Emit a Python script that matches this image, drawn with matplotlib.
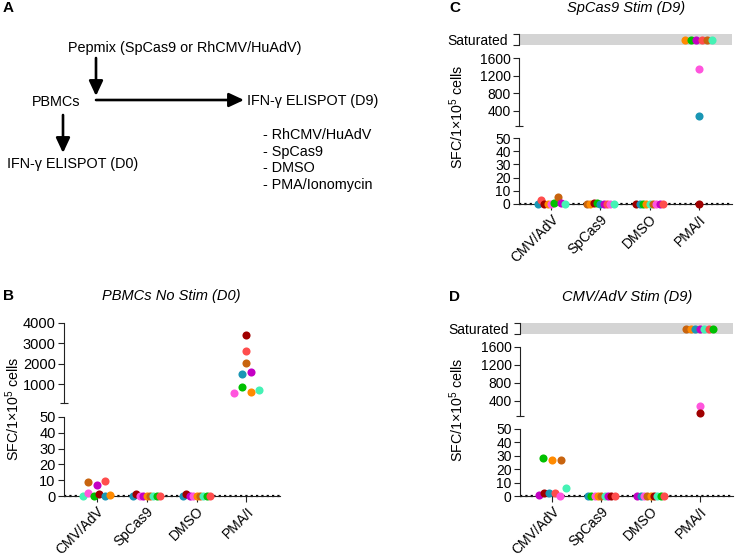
import numpy as np
import matplotlib
matplotlib.use("Agg")
import matplotlib.pyplot as plt

plt.rcParams['font.family'] = ['Liberation Sans', 'DejaVu Sans']
plt.rcParams['mathtext.fontset'] = 'custom'
plt.rcParams['mathtext.rm'] = 'Liberation Sans'
plt.rcParams['mathtext.it'] = 'Liberation Sans:italic'
plt.rcParams['mathtext.bf'] = 'Liberation Sans:bold'

# ---------------- data ----------------
SAT = np.inf  # "Saturated" wells
categories = ['CMV/AdV', 'SpCas9', 'DMSO', 'PMA/I']

# (donor, SFC per 1e5 cells) in left-to-right order inside each group
B_CMV = [('aqua', 0), ('pink', 1.7), ('green', 0), ('darkred', 1), ('teal', 0), ('orange', 0.6),
         ('brown', 9), ('magenta', 6.7), ('red', 9.6)]
B_SPC = [('teal', 0), ('darkred', 1), ('pink', 0), ('magenta', 0), ('orange', 0), ('brown', 0),
         ('aqua', 0), ('green', 0), ('red', 0)]
B_DMSO = [('teal', 0), ('darkred', 1), ('magenta', 0), ('pink', 0), ('orange', 0), ('brown', 0),
          ('aqua', 0), ('green', 0), ('red', 0)]
B_PMA = [('darkred', 3400), ('red', 2620), ('brown', 2020), ('teal', 1510), ('magenta', 1590),
         ('pink', 590), ('green', 850), ('orange', 640), ('aqua', 720)]

C_CMV = [('teal', 0), ('red', 2.7), ('darkred', 0), ('orange', 0), ('pink', 0), ('green', 1),
         ('brown', 5.5), ('magenta', 0.5), ('aqua', 0)]
C_SPC = [('brown', 0), ('orange', 0), ('darkred', 0.5), ('green', 1), ('teal', 0), ('magenta', 0),
         ('red', 0), ('pink', 0), ('aqua', 0)]
C_DMSO = [('darkred', 0), ('teal', 0), ('green', 0), ('orange', 0), ('aqua', 0), ('brown', 0),
          ('pink', 0), ('magenta', 0), ('red', 0)]
C_PMA = [('orange', SAT), ('green', SAT), ('magenta', SAT), ('red', SAT), ('brown', SAT), ('aqua', SAT),
         ('pink', 1340), ('teal', 280), ('darkred', 0)]

D_CMV = [('magenta', 1), ('darkred', 2), ('teal', 2), ('red', 2), ('pink', 0), ('aqua', 6),
         ('green', 28.5), ('orange', 26.5), ('brown', 27)]
D_SPC = [('teal', 0), ('green', 0), ('pink', 0), ('orange', 0), ('brown', 0), ('aqua', 0),
         ('magenta', 0), ('darkred', 0), ('red', 0)]
D_DMSO = [('magenta', 0), ('teal', 0), ('pink', 0), ('brown', 0), ('orange', 0), ('darkred', 0),
          ('aqua', 0), ('green', 0), ('red', 0)]
D_PMA = [('brown', SAT), ('orange', SAT), ('teal', SAT), ('magenta', SAT), ('aqua', SAT), ('red', SAT),
         ('green', SAT), ('pink', 290), ('darkred', 127)]

low_ticks = [0, 10, 20, 30, 40, 50]
B_high_ticks = [1000, 2000, 3000, 4000]
CD_high_ticks = [400, 800, 1200, 1600]

# ---------------- style ----------------
donor_colors = {
    'darkred': '#A00000', 'red': '#FF4D4D', 'brown': '#C8640F', 'teal': '#1A96B4',
    'magenta': '#C400C4', 'green': '#00C000', 'orange': '#FF8A00', 'pink': '#FF55DD',
    'aqua': '#45F2B5',
}
W, H = 736, 559
XLIM = (-0.65, 3.67)
AX_C = '#222222'
DOT_S = 34

fig = plt.figure(figsize=(W / 100, H / 100), dpi=100)

ov = fig.add_axes([0, 0, 1, 1])
ov.set_xlim(0, W)
ov.set_ylim(H, 0)
ov.axis('off')


def px_ax(x0, x1, ytop, ybot):
    return fig.add_axes([x0 / W, 1 - ybot / H, (x1 - x0) / W, (ybot - ytop) / H])


def base_style(ax, ylim, tfs):
    ax.set_xlim(*XLIM)
    ax.set_ylim(*ylim)
    ax.patch.set_visible(False)
    for s in ['top', 'right']:
        ax.spines[s].set_visible(False)
    ax.spines['left'].set_linewidth(0.8)
    ax.spines['left'].set_color(AX_C)
    ax.tick_params(axis='y', which='major', length=4, width=0.8, pad=2,
                   labelsize=tfs, color=AX_C, labelcolor='black')


def swarm(ypix, d=6.5, smax=8.6, wmax=27.0):
    n = len(ypix)
    order = sorted(range(n), key=lambda i: ypix[i])
    clusters, cur = [], [order[0]]
    for a, b in zip(order[:-1], order[1:]):
        if ypix[b] - ypix[a] < d:
            cur.append(b)
        else:
            clusters.append(cur)
            cur = [b]
    clusters.append(cur)
    off = np.zeros(n)
    for c in clusters:
        c = sorted(c)
        m = len(c)
        if m < 2:
            continue
        s = min(smax, wmax / (m - 1))
        for k, i in enumerate(c):
            off[i] = (k - (m - 1) / 2) * s
    return off


def panel(groups, x0, x1, low, high, high_ylim, high_ticks, band=None, tfs=10):
    # low / high / band = (ytop, ybot) in pixels
    ax_lo = px_ax(x0, x1, *low)
    base_style(ax_lo, (0, 50), tfs)
    ax_lo.set_yticks(low_ticks)
    ax_lo.spines['bottom'].set_linewidth(0.8)
    ax_lo.spines['bottom'].set_color(AX_C)
    ax_lo.set_xticks(range(len(categories)))
    ax_lo.set_xticklabels(categories, rotation=45, ha='right', va='top',
                          rotation_mode='anchor', fontsize=10)
    ax_lo.tick_params(axis='x', length=4, width=0.8, pad=2, color=AX_C)
    ax_lo.axhline(0, color='black', lw=1.6, ls=(0, (1, 1.4)), zorder=2, clip_on=False)

    ax_hi = px_ax(x0, x1, *high)
    base_style(ax_hi, high_ylim, tfs)
    ax_hi.spines['bottom'].set_visible(False)
    ax_hi.set_xticks([])
    ax_hi.set_yticks(high_ticks)
    ax_hi.set_yticks([high_ylim[0]], minor=True)
    ax_hi.tick_params(axis='y', which='minor', length=6, width=0.8, direction='inout',
                      color=AX_C, labelleft=False)

    ax_b = None
    if band is not None:
        ax_b = px_ax(x0, x1, *band)
        ax_b.set_xlim(*XLIM)
        ax_b.set_ylim(0, 1)
        ax_b.set_facecolor('#D4D4D4')
        for s in ['top', 'right', 'bottom']:
            ax_b.spines[s].set_visible(False)
        ax_b.spines['left'].set_linewidth(0.8)
        ax_b.spines['left'].set_color(AX_C)
        ax_b.set_xticks([])
        ax_b.set_yticks([0.5])
        ax_b.set_yticklabels(['Saturated'])
        ax_b.set_yticks([0, 1], minor=True)
        ax_b.tick_params(axis='y', which='major', length=0, pad=8, labelsize=tfs)
        ax_b.tick_params(axis='y', which='minor', length=4, width=0.8, color=AX_C)

    ux = (x1 - x0) / (XLIM[1] - XLIM[0])
    lo_h = low[1] - low[0]
    hi_h = high[1] - high[0]
    for gi, grp in enumerate(groups):
        ypix, where = [], []
        for donor, v in grp:
            if np.isinf(v):
                ypix.append((band[0] + band[1]) / 2)
                where.append('band')
            elif v > 50:
                ypix.append(high[1] - (v - high_ylim[0]) / (high_ylim[1] - high_ylim[0]) * hi_h)
                where.append('hi')
            else:
                ypix.append(low[1] - v / 50 * lo_h)
                where.append('lo')
        off = swarm(ypix)
        for (donor, v), o, w in zip(grp, off, where):
            xx = gi + o / ux
            if w == 'band':
                ax, yy = ax_b, 0.5
            elif w == 'hi':
                ax, yy = ax_hi, v
            else:
                ax, yy = ax_lo, v
            ax.scatter([xx], [yy], s=DOT_S, color=donor_colors[donor], lw=0,
                       zorder=3, clip_on=False)
    return ax_lo, ax_hi, ax_b


# ---------------- panel A (schematic) ----------------
fs_a = 10.4
ov.text(3, 8, 'A', fontsize=11, fontweight='bold', ha='left', va='center')
ov.text(185, 48, 'Pepmix (SpCas9 or RhCMV/HuAdV)', fontsize=fs_a, ha='center', va='center')
ov.text(56, 102, 'PBMCs', fontsize=fs_a, ha='center', va='center')
ov.text(247, 101, 'IFN-γ ELISPOT (D9)', fontsize=fs_a, ha='left', va='center')
ov.text(7, 164, 'IFN-γ ELISPOT (D0)', fontsize=fs_a, ha='left', va='center')
for yy, t in zip([135, 152, 168, 185], ['- RhCMV/HuAdV', '- SpCas9', '- DMSO', '- PMA/Ionomycin']):
    ov.text(263, yy, t, fontsize=fs_a, ha='left', va='center')

arrow_kw = dict(arrowstyle='-|>,head_length=0.9,head_width=0.42', lw=1.9, color='black',
                shrinkA=0, shrinkB=0, mutation_scale=10)
ov.annotate('', xy=(96, 96), xytext=(96, 58), arrowprops=arrow_kw)
ov.annotate('', xy=(244, 100), xytext=(96, 100), arrowprops=arrow_kw)
ov.annotate('', xy=(63, 153), xytext=(63, 115), arrowprops=arrow_kw)

# ---------------- panel B ----------------
panel([B_CMV, B_SPC, B_DMSO, B_PMA], 64, 280, low=(417, 496), high=(323, 402.5),
      high_ylim=(110, 4000), high_ticks=B_high_ticks, tfs=10.5)
ov.text(3, 296, 'B', fontsize=11, fontweight='bold', ha='left', va='center')
ov.text(171, 296, 'PBMCs No Stim (D0)', fontsize=10.5, style='italic', ha='center', va='center')
ov.text(13, 409, 'SFC/1×10$^5$ cells', fontsize=10.3, rotation=90, ha='center', va='center')

# ---------------- panel C ----------------
panel([C_CMV, C_SPC, C_DMSO, C_PMA], 519, 732, low=(138, 204), high=(58, 126),
      high_ylim=(60, 1600), high_ticks=CD_high_ticks, band=(34, 45), tfs=10)
ov.text(449, 8, 'C', fontsize=11, fontweight='bold', ha='left', va='center')
ov.text(626, 8, 'SpCas9 Stim (D9)', fontsize=10.5, style='italic', ha='center', va='center')
ov.text(457, 117, 'SFC/1×10$^5$ cells', fontsize=10.3, rotation=90, ha='center', va='center')

# ---------------- panel D ----------------
panel([D_CMV, D_SPC, D_DMSO, D_PMA], 520, 733, low=(429, 496), high=(347, 416),
      high_ylim=(60, 1600), high_ticks=CD_high_ticks, band=(323, 334), tfs=10)
ov.text(449, 297, 'D', fontsize=11, fontweight='bold', ha='left', va='center')
ov.text(627, 297, 'CMV/AdV Stim (D9)', fontsize=10.5, style='italic', ha='center', va='center')
ov.text(457, 410, 'SFC/1×10$^5$ cells', fontsize=10.3, rotation=90, ha='center', va='center')

fig.savefig('out.png', dpi=100)
